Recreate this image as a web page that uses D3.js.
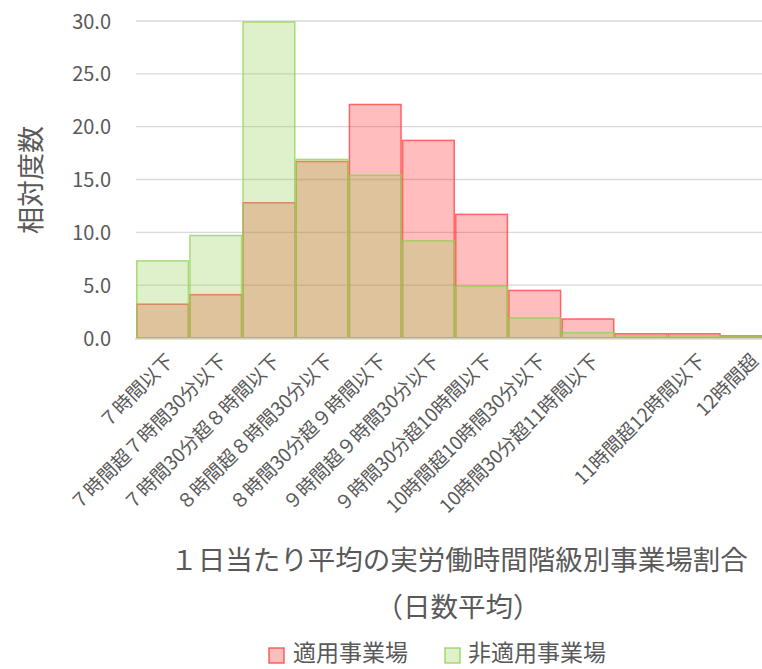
<!DOCTYPE html>
<html><head><meta charset="utf-8">
<script src="https://cdn.jsdelivr.net/npm/d3@7"></script>
<style>
html,body{margin:0;padding:0;background:#fff;}
svg{display:block;}
svg text{font-family:"Noto Sans CJK JP","Noto Sans",sans-serif;}
</style></head>
<body>
<svg id="chart" width="762" height="669"></svg>
<script>
const categories = ["７時間以下","７時間超７時間30分以下","７時間30分超８時間以下","８時間超８時間30分以下","８時間30分超９時間以下","９時間超９時間30分以下","９時間30分超10時間以下","10時間超10時間30分以下","10時間30分超11時間以下","","11時間超12時間以下","12時間超"];
const applied = [3.2, 4.1, 12.8, 16.7, 22.1, 18.7, 11.7, 4.5, 1.8, 0.4, 0.4, 0.2];
const nonApplied = [7.3, 9.7, 29.9, 16.9, 15.4, 9.2, 4.9, 1.9, 0.5, 0.2, 0.2, 0.1];
const yTicks = [0, 5, 10, 15, 20, 25, 30];
const seriesNames = ["適用事業場", "非適用事業場"];

const FONT = '"Noto Sans CJK JP","Noto Sans",sans-serif';
const svg = d3.select("#chart");
const x = d3.scaleBand().domain(d3.range(categories.length)).range([136, 774]).padding(0);
const y = d3.scaleLinear().domain([0, 30]).range([338, 21]);

// gridlines
svg.append("g").selectAll("line").data(yTicks.slice(1)).join("line")
  .attr("x1", 136).attr("x2", 762)
  .attr("y1", d => y(d)).attr("y2", d => y(d))
  .attr("stroke", "#d9d9d9").attr("stroke-width", 1.3);

// y axis labels
const yAxis = d3.axisLeft(y).tickValues(yTicks).tickFormat(d3.format(".1f")).tickSize(0).tickPadding(0);
const ya = svg.append("g").attr("transform", "translate(111,0)").call(yAxis).attr("font-family", FONT);
ya.select(".domain").remove();
ya.selectAll("text").attr("fill", "#595959").style("font-size", "20px").style("font-family", FONT).attr("dy", "0.35em");

// bars
const series = [
  {vals: applied, fill: "rgba(255,0,0,0.26)", stroke: "rgba(255,60,60,0.75)"},
  {vals: nonApplied, fill: "rgba(146,208,80,0.3)", stroke: "rgba(146,208,80,0.75)"}
];
series.forEach(s => {
  svg.append("g").selectAll("rect").data(s.vals).join("rect")
    .attr("x", (d, i) => x(i) + 0.75)
    .attr("width", x.bandwidth() - 1.5)
    .attr("y", d => y(d))
    .attr("height", d => y(0) - y(d))
    .attr("fill", s.fill)
    .attr("stroke", s.stroke)
    .attr("stroke-width", 1.5);
});

// x axis line
svg.append("line").attr("x1", 135).attr("x2", 762).attr("y1", y(0) + 1).attr("y2", y(0) + 1)
  .attr("stroke", "#d9d9d9").attr("stroke-width", 1.5);

// x labels
const xAxis = d3.axisBottom(x).tickFormat(i => categories[i]).tickSize(0).tickPadding(0);
const xa = svg.append("g").attr("transform", "translate(0,354)").call(xAxis).attr("font-family", FONT);
xa.select(".domain").remove();
xa.selectAll("text")
  .attr("fill", "#595959").style("font-size", "19px").style("font-family", FONT)
  .attr("text-anchor", "end")
  .attr("transform", "rotate(-45)")
  .attr("x", 0).attr("y", 0).attr("dx", "0.15em").attr("dy", "0.75em");

// y title
svg.append("text").attr("transform", "translate(41,180) rotate(-90)")
  .attr("text-anchor", "middle").attr("fill", "#595959").style("font-size", "27px").text("相対度数");

// x title
svg.append("text").attr("x", 459).attr("y", 570).attr("text-anchor", "middle")
  .attr("fill", "#595959").style("font-size", "27.5px").text("１日当たり平均の実労働時間階級別事業場割合");
svg.append("text").attr("x", 458).attr("y", 617).attr("text-anchor", "middle")
  .attr("fill", "#595959").style("font-size", "27.5px").text("（日数平均）");

// legend
const legendItems = [
  {name: seriesNames[0], x: 269, tx: 293, fill: "rgba(255,0,0,0.26)", stroke: "rgba(255,60,60,0.8)"},
  {name: seriesNames[1], x: 445, tx: 468, fill: "rgba(146,208,80,0.3)", stroke: "rgba(146,208,80,0.8)"}
];
const lg = svg.append("g").selectAll("g").data(legendItems).join("g");
lg.append("rect").attr("x", d => d.x).attr("y", 648).attr("width", 15).attr("height", 15)
  .attr("fill", d => d.fill).attr("stroke", d => d.stroke).attr("stroke-width", 1.5);
lg.append("text").attr("x", d => d.tx).attr("y", 661).attr("fill", "#595959")
  .style("font-size", "23px").text(d => d.name);
</script>
</body></html>
